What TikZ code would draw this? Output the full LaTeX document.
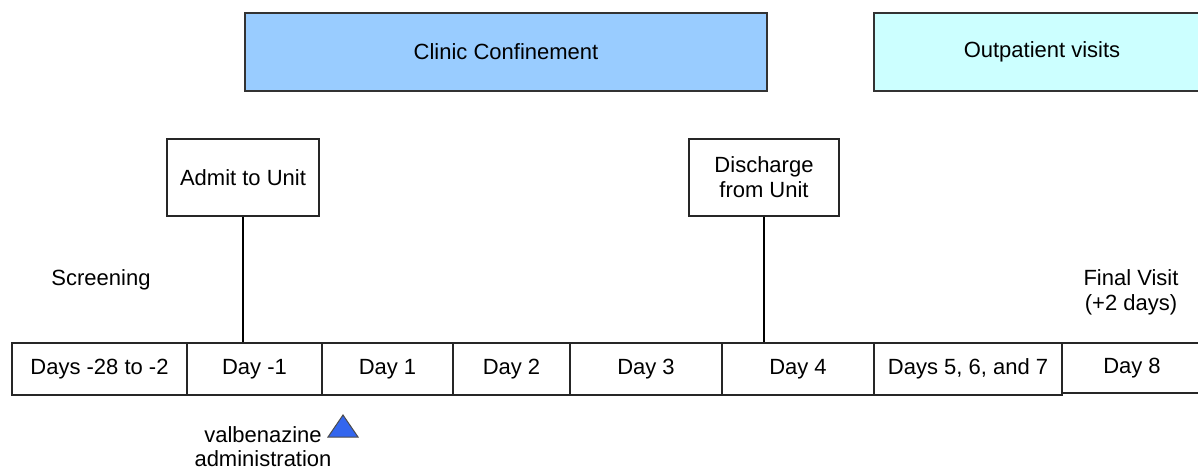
\documentclass[tikz,border=0pt]{standalone}
\usepackage{fontspec}
\setmainfont{Liberation Sans}
\usetikzlibrary{positioning}
\definecolor{confine}{HTML}{99CCFF}
\definecolor{outpat}{HTML}{CCFFFF}
\definecolor{dosecol}{HTML}{3366EE}
\newcommand{\dayCell}[4]{
    \node[cell, minimum width=#3] (#1) at (#2,369) {#4};
}

\begin{document}
\begin{tikzpicture}[x=0.5pt, y=-0.5pt, font=\fontsize{11}{12.5}\selectfont,
    cell/.style={draw=black!85, line width=0.6pt, minimum height=26pt, inner sep=0pt},
    phase/.style={draw=black!80, line width=0.6pt, minimum height=39pt, inner sep=0pt},
    event/.style={draw=black!85, line width=0.6pt, minimum width=76pt, minimum height=38.5pt, inner sep=0pt, align=center},
    link/.style={draw=black, line width=0.6pt}]

\useasboundingbox (0,0) rectangle (1198,472);

% Phases along the top
\node[phase, fill=confine, minimum width=261pt] (clinic) at (506,52) {Clinic Confinement};
\node[phase, fill=outpat, minimum width=170pt] (outpat) at (1044,52) {};
\node at (1042,52) {Outpatient visits};

% Admission and discharge
\node[event] (admit) at (243,177.5) {Admit to Unit};
\node[event, minimum width=75pt] (discharge) at (764,177.5) {Discharge\\from Unit};

% Row of study days
\dayCell{d0}{99.5}{87.5pt}{Days -28 to -2}
\dayCell{dm1}{254.5}{67.5pt}{Day -1}
\dayCell{d1}{387.5}{65.5pt}{Day 1}
\dayCell{d2}{511.5}{58.5pt}{Day 2}
\dayCell{d3}{646}{76pt}{Day 3}
\dayCell{d4}{798}{76pt}{Day 4}
\dayCell{d567}{968}{94pt}{Days 5, 6, and 7}
\node[cell, minimum width=70pt, minimum height=25pt] (d8) at (1132,368) {Day 8};

\draw[link] (admit.south) -- (admit.south |- dm1.north);
\draw[link] (discharge.south) -- (discharge.south |- d4.north);

% Free labels
\node (screening) at (101,280) {Screening};
\node[align=center] (final) at (1131,292) {Final Visit\\(+2 days)};
\node[align=center, inner sep=1pt, font=\fontsize{11}{12}\selectfont] (valb) at (263,447) {valbenazine\\administration};

% Dosing marker
\filldraw[fill=dosecol, draw=black!70, line width=0.5pt] (343,415) -- (358,437) -- (328,437) -- cycle;

\end{tikzpicture}
\end{document}
